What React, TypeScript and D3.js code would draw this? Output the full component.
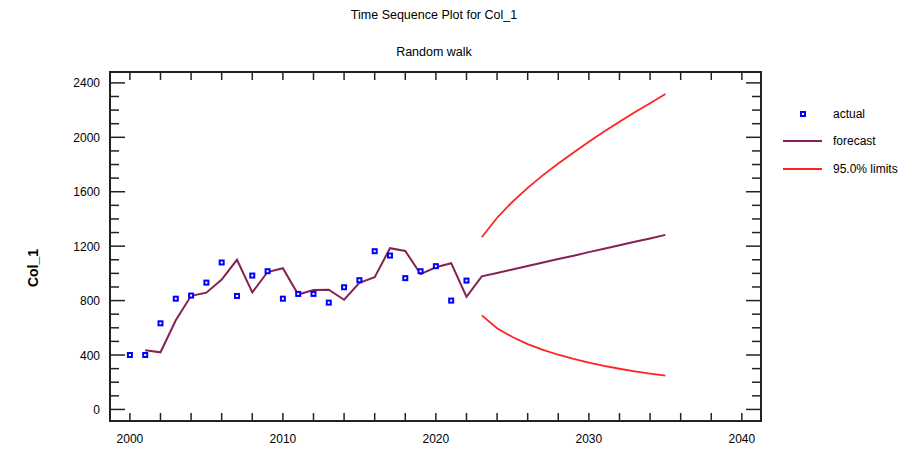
import React, { useEffect, useRef } from "react";
import * as d3 from "d3";

const actualYears = [2000, 2001, 2002, 2003, 2004, 2005, 2006, 2007, 2008, 2009, 2010, 2011, 2012, 2013, 2014, 2015, 2016, 2017, 2018, 2019, 2020, 2021, 2022];
const actualValues = [400, 400, 633, 814, 837, 932, 1080, 834, 984, 1016, 814, 849, 849, 785, 898, 950, 1163, 1131, 965, 1016, 1053, 800, 947];

const forecastYears = [2001, 2002, 2003, 2004, 2005, 2006, 2007, 2008, 2009, 2010, 2011, 2012, 2013, 2014, 2015, 2016, 2017, 2018, 2019, 2020, 2021, 2022, 2023, 2024, 2025, 2026, 2027, 2028, 2029, 2030, 2031, 2032, 2033, 2034, 2035];
const forecastValues = [435, 420, 655, 835, 858, 955, 1100, 860, 1010, 1038, 845, 878, 880, 806, 930, 972, 1185, 1165, 995, 1045, 1075, 828, 978, 1003, 1029, 1054, 1080, 1105, 1130, 1156, 1181, 1207, 1232, 1257, 1283];

const limitYears = [2023, 2024, 2025, 2026, 2027, 2028, 2029, 2030, 2031, 2032, 2033, 2034, 2035];
const upperLimits = [1265, 1409, 1526, 1628, 1722, 1808, 1889, 1968, 2042, 2115, 2184, 2251, 2318];
const lowerLimits = [691, 597, 532, 480, 438, 402, 371, 344, 320, 299, 280, 263, 248];

const xTickLabels = [2000, 2010, 2020, 2030, 2040];
const yTickLabels = [0, 400, 800, 1200, 1600, 2000, 2400];

const FONT = "'Liberation Sans', Arial, sans-serif";
const FORECAST_COLOR = "#862155";
const LIMIT_COLOR = "#ff2222";
const ACTUAL_COLOR = "#0000ff";

function App() {
  const ref = useRef<SVGSVGElement>(null);
  const width = 916,
    height = 450;
  const frame = { left: 110, top: 72, right: 761, bottom: 421 };

  useEffect(() => {
    const svg = d3.select(ref.current);
    svg.selectAll("*").remove();

    const x = d3.scaleLinear().domain([1998.7, 2041.25]).range([frame.left, frame.right]);
    const y = d3.scaleLinear().domain([-85, 2480]).range([frame.bottom, frame.top]);

    // titles
    svg
      .append("text")
      .attr("x", 434)
      .attr("y", 19)
      .attr("text-anchor", "middle")
      .style("font", `12.5px ${FONT}`)
      .text("Time Sequence Plot for Col_1");
    svg
      .append("text")
      .attr("x", 434)
      .attr("y", 56)
      .attr("text-anchor", "middle")
      .style("font", `12.5px ${FONT}`)
      .text("Random walk");

    // y label
    svg
      .append("text")
      .attr("transform", `translate(38, 268) rotate(-90)`)
      .attr("text-anchor", "middle")
      .style("font", `bold 14px ${FONT}`)
      .text("Col_1");

    const g = svg.append("g");

    // ticks
    const xTicks = d3.range(2000, 2041, 2);
    xTicks.forEach((t) => {
      g.append("line")
        .attr("x1", x(t)).attr("x2", x(t))
        .attr("y1", frame.bottom).attr("y2", frame.bottom - 8)
        .attr("stroke", "#222").attr("stroke-width", 1.5);
      g.append("line")
        .attr("x1", x(t)).attr("x2", x(t))
        .attr("y1", frame.top).attr("y2", frame.top + 8)
        .attr("stroke", "#222").attr("stroke-width", 1.5);
    });
    const yTicks = d3.range(0, 2401, 100);
    yTicks.forEach((t) => {
      const len = t % 400 === 0 ? 15 : 9;
      g.append("line")
        .attr("x1", frame.left).attr("x2", frame.left + len)
        .attr("y1", y(t)).attr("y2", y(t))
        .attr("stroke", "#222").attr("stroke-width", 1.5);
      g.append("line")
        .attr("x1", frame.right).attr("x2", frame.right - len)
        .attr("y1", y(t)).attr("y2", y(t))
        .attr("stroke", "#222").attr("stroke-width", 1.5);
    });

    g.append("rect")
      .attr("x", frame.left)
      .attr("y", frame.top)
      .attr("width", frame.right - frame.left)
      .attr("height", frame.bottom - frame.top)
      .attr("fill", "none")
      .attr("stroke", "#222")
      .attr("stroke-width", 2);

    xTickLabels.forEach((t) => {
      g.append("text")
        .attr("x", x(t))
        .attr("y", 443)
        .attr("text-anchor", "middle")
        .style("font", `12px ${FONT}`)
        .text(t);
    });
    yTickLabels.forEach((t) => {
      g.append("text")
        .attr("x", 100)
        .attr("y", y(t) + 4.5)
        .attr("text-anchor", "end")
        .style("font", `12px ${FONT}`)
        .text(t);
    });

    const line = d3
      .line<number>()
      .x((d, i) => x(forecastYears[i]))
      .y((d) => y(d));

    g.append("path")
      .datum(forecastValues)
      .attr("fill", "none")
      .attr("stroke", FORECAST_COLOR)
      .attr("stroke-width", 2)
      .attr("d", line);

    const limitLine = d3
      .line<number>()
      .x((d, i) => x(limitYears[i]))
      .y((d) => y(d));

    [upperLimits, lowerLimits].forEach((arr) => {
      g.append("path")
        .datum(arr)
        .attr("fill", "none")
        .attr("stroke", LIMIT_COLOR)
        .attr("stroke-width", 1.8)
        .attr("d", limitLine);
    });

    actualValues.forEach((v, i) => {
      const cx = x(actualYears[i]),
        cy = y(v);
      g.append("rect")
        .attr("x", cx - 3).attr("y", cy - 3)
        .attr("width", 6).attr("height", 6)
        .attr("fill", ACTUAL_COLOR);
      g.append("rect")
        .attr("x", cx - 1).attr("y", cy - 1)
        .attr("width", 2).attr("height", 2)
        .attr("fill", "#fff");
    });

    // legend
    const lg = svg.append("g");
    lg.append("rect").attr("x", 800).attr("y", 111).attr("width", 6).attr("height", 6).attr("fill", ACTUAL_COLOR);
    lg.append("rect").attr("x", 802).attr("y", 113).attr("width", 2).attr("height", 2).attr("fill", "#fff");
    lg.append("line").attr("x1", 783).attr("x2", 822).attr("y1", 141).attr("y2", 141)
      .attr("stroke", FORECAST_COLOR).attr("stroke-width", 2);
    lg.append("line").attr("x1", 783).attr("x2", 822).attr("y1", 169).attr("y2", 169)
      .attr("stroke", LIMIT_COLOR).attr("stroke-width", 2);
    [["actual", 118], ["forecast", 145], ["95.0% limits", 173]].forEach(([t, ty]) => {
      lg.append("text")
        .attr("x", 833)
        .attr("y", ty)
        .style("font", `12px ${FONT}`)
        .text(t);
    });
  }, []);

  return (
    <svg
      ref={ref}
      width={width}
      height={height}
      style={{ position: "absolute", left: 0, top: 0, background: "#fff" }}
    />
  );
}

export default App;
